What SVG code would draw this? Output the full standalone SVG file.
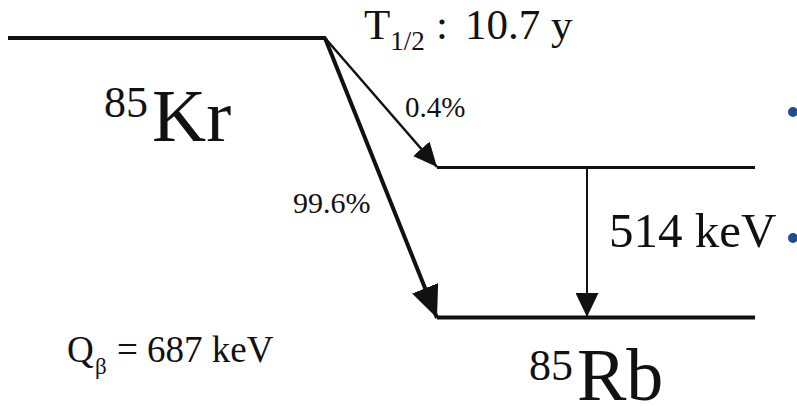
<svg xmlns="http://www.w3.org/2000/svg" width="797" height="407" viewBox="0 0 797 407">
  <defs>
    <style>
      text { font-family: "Liberation Serif", "Times New Roman", serif; fill: #111; }
      .level { stroke: #111; fill: none; stroke-linecap: butt; }
      .conn { stroke: #111; fill: none; }
      .bullet { fill: #1F4E8C; }
    </style>
    <marker id="headS" markerUnits="userSpaceOnUse" viewBox="0 0 24 22" refX="24" refY="11" markerWidth="24" markerHeight="22" orient="auto">
      <path d="M0,0 L24,11 L0,22 Z" fill="#111"/>
    </marker>
    <marker id="headL" markerUnits="userSpaceOnUse" viewBox="0 0 32 28" refX="32" refY="14" markerWidth="32" markerHeight="28" orient="auto">
      <path d="M0,0 L32,14 L0,28 Z" fill="#111"/>
    </marker>
    <marker id="headV" markerUnits="userSpaceOnUse" viewBox="0 0 24 23" refX="24" refY="11.5" markerWidth="24" markerHeight="23" orient="auto">
      <path d="M0,0 L24,11.5 L0,23 Z" fill="#111"/>
    </marker>
  </defs>
  <rect width="797" height="407" fill="#fff"/>

  <g id="kr85">
    <line class="level" x1="8" y1="38" x2="326" y2="38" stroke-width="4"/>
    <text x="104" y="117" font-size="44">85</text>
    <text x="152" y="141" font-size="75">Kr</text>
  </g>

  <g id="halflife">
    <text x="364" y="39" font-size="43">T<tspan font-size="27" y="50">1/2</tspan><tspan x="436" y="39">:</tspan><tspan x="465" y="39">10.7 y</tspan></text>
  </g>

  <g id="rb85-excited">
    <line class="level" x1="437" y1="167.5" x2="755" y2="167.5" stroke-width="3"/>
  </g>

  <g id="rb85-ground">
    <line class="level" x1="437" y1="317.5" x2="755" y2="317.5" stroke-width="4"/>
    <text x="529" y="380" font-size="44">85</text>
    <text x="577" y="400" font-size="74">Rb</text>
  </g>

  <g id="qvalue">
    <text x="67" y="362" font-size="37">Q<tspan x="95" y="374" font-size="23">β</tspan><tspan x="117" y="362">= 687 keV</tspan></text>
  </g>

  <g id="connectors">
    <line class="conn" x1="325" y1="38" x2="437" y2="167" stroke-width="2.5" marker-end="url(#headS)"/>
    <line class="conn" x1="325" y1="38" x2="437" y2="318" stroke-width="4" marker-end="url(#headL)"/>
    <line class="conn" x1="587" y1="168" x2="587" y2="317" stroke-width="2" marker-end="url(#headV)"/>
    <text x="405" y="117" font-size="29">0.4%</text>
    <text x="293" y="213" font-size="30">99.6%</text>
    <text x="609" y="247" font-size="49">514 keV</text>
  </g>

  <g id="bullets">
    <circle class="bullet" cx="793" cy="112" r="5"/>
    <circle class="bullet" cx="793" cy="238" r="5"/>
  </g>
</svg>
